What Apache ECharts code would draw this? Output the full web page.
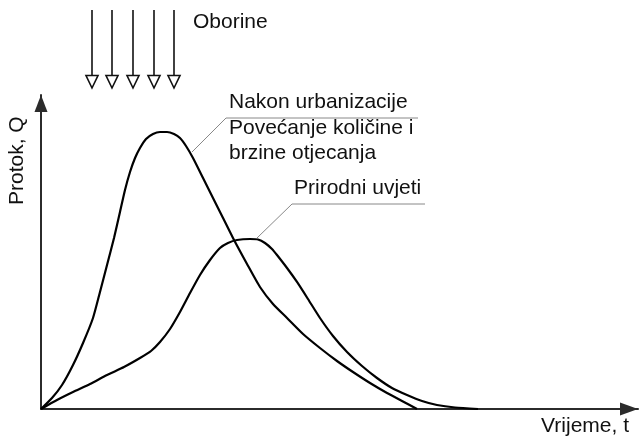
<!DOCTYPE html>
<html>
<head>
<meta charset="utf-8">
<title>Hidrogram</title>
<script src="https://cdn.jsdelivr.net/npm/echarts@6/dist/echarts.min.js"></script>
<style>
  html, body { margin: 0; padding: 0; background: #fff; }
  #chart { width: 639px; height: 440px; }
</style>
</head>
<body>
<div id="chart"></div>
<script>
// vrijeme t (0-100) i protok Q (0-100), ocitano sa slike
const urbanT = [0, 1.84, 3.52, 5.36, 7.04, 8.71, 9.88, 11.06, 12.23, 13.23, 14.07, 14.91, 15.75, 16.58, 17.59, 18.76, 19.93,
  21.11, 22.28, 23.28, 24.29, 25.46, 27.14, 28.81, 30.49, 32.16, 34.51, 36.68, 38.86, 41.21, 43.89, 46.73, 49.58, 52.26,
  55.11, 57.96, 60.47, 62.98];
const urbanQ = [0, 3.5, 7.64, 14.01, 21.02, 28.98, 37.26, 45.86, 54.46, 62.74, 69.75, 75.48, 79.94, 83.12, 85.99, 87.58, 88.22,
  88.22, 87.58, 86.31, 83.76, 79.94, 73.57, 67.2, 60.83, 54.46, 46.18, 38.85, 33.44, 28.98, 23.89, 19.43, 15.29, 11.78,
  8.28, 5.1, 2.55, 0];
const naturalT = [0, 2.68, 5.36, 8.21, 11.06, 13.9, 16.58, 18.43, 19.93, 21.61, 23.28, 24.96, 26.63, 28.31, 29.98, 31.32, 32.83,
  35.01, 36.35, 37.52, 38.69, 39.53, 41.21, 42.88, 44.72, 46.73, 48.91, 51.26, 53.77, 56.28, 58.79, 61.31, 63.82, 66.33,
  69.35, 73.2];
const naturalQ = [0, 2.87, 5.41, 7.96, 10.83, 13.38, 16.24, 18.47, 21.34, 25.48, 30.89, 36.94, 42.68, 47.45, 51.27, 52.87, 53.82,
  54.14, 53.98, 52.87, 50.96, 49.04, 44.9, 40.45, 35.03, 28.98, 23.25, 18.15, 13.69, 9.87, 6.69, 4.46, 2.55, 1.27,
  0.48, 0];
const rainX = [92, 112, 133, 154, 174];

const font = "Liberation Sans, Arial, sans-serif";
const chart = echarts.init(document.getElementById("chart"));

function pairs(xs, ys) {
  return xs.map((x, i) => [x, ys[i]]);
}

const arrows = [];
rainX.forEach((x) => {
  arrows.push({
    type: "line",
    shape: { x1: x, y1: 10, x2: x, y2: 77 },
    style: { stroke: "#111", lineWidth: 1.6 }
  });
  arrows.push({
    type: "polygon",
    shape: { points: [[x - 6, 75.5], [x + 6, 75.5], [x, 88]] },
    style: { fill: "#fff", stroke: "#111", lineWidth: 1.6 }
  });
});

const textStyle = (extra) => Object.assign({ font: "21px " + font, fill: "#111" }, extra);

chart.setOption({
  animation: false,
  grid: { left: 41, right: 1, top: 95, bottom: 31 },
  xAxis: {
    type: "value",
    min: 0,
    max: 100,
    axisLine: {
      symbol: ["none", "triangle"],
      symbolSize: [13, 18],
      symbolOffset: [0, -9],
      lineStyle: { color: "#2b2b2b", width: 2 }
    },
    axisTick: { show: false },
    axisLabel: { show: false },
    splitLine: { show: false }
  },
  yAxis: {
    type: "value",
    min: 0,
    max: 100,
    axisLine: {
      show: true,
      symbol: ["none", "triangle"],
      symbolSize: [13, 17],
      symbolOffset: [0, -8.5],
      lineStyle: { color: "#2b2b2b", width: 2 }
    },
    axisTick: { show: false },
    axisLabel: { show: false },
    splitLine: { show: false }
  },
  series: [
    {
      name: "Nakon urbanizacije",
      type: "line",
      smooth: 0.2,
      showSymbol: false,
      lineStyle: { color: "#000", width: 2.2 },
      data: pairs(urbanT, urbanQ)
    },
    {
      name: "Prirodni uvjeti",
      type: "line",
      smooth: 0.2,
      showSymbol: false,
      lineStyle: { color: "#000", width: 2.2 },
      data: pairs(naturalT, naturalQ)
    }
  ],
  graphic: [
    ...arrows,
    { type: "text", left: 193, top: 12, style: textStyle({ text: "Oborine" }) },
    // oznaka urbane krivulje
    { type: "polyline", shape: { points: [[192, 152], [226, 118], [418, 118]] }, style: { stroke: "#888", lineWidth: 1, fill: null } },
    { type: "text", left: 229, top: 92, style: textStyle({ text: "Nakon urbanizacije" }) },
    { type: "text", left: 229, top: 118, style: textStyle({ text: "Povećanje količine i" }) },
    { type: "text", left: 229, top: 143, style: textStyle({ text: "brzine otjecanja" }) },
    // oznaka prirodne krivulje
    { type: "polyline", shape: { points: [[257, 238], [292, 204], [425, 204]] }, style: { stroke: "#888", lineWidth: 1, fill: null } },
    { type: "text", left: 294, top: 178, style: textStyle({ text: "Prirodni uvjeti" }) },
    // nazivi osi
    { type: "text", right: 10, top: 416, style: textStyle({ text: "Vrijeme, t" }) },
    { type: "text", x: 7, y: 205, rotation: Math.PI / 2, style: textStyle({ text: "Protok, Q" }) }
  ]
});

window.addEventListener("resize", () => chart.resize());
</script>
</body>
</html>
